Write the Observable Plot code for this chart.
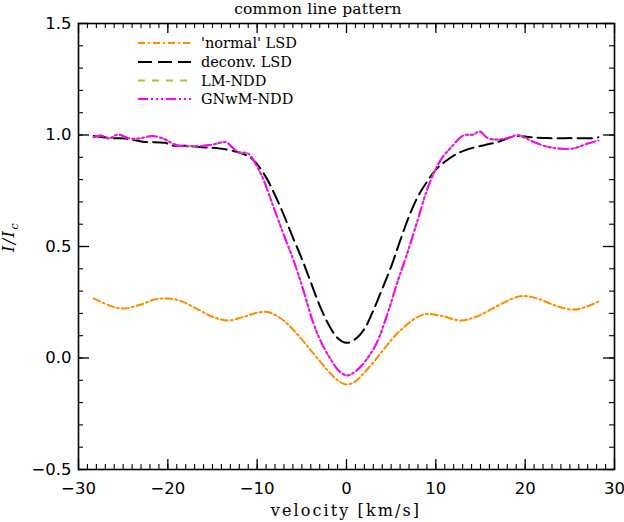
<!DOCTYPE html>
<html><head><meta charset="utf-8">
<script src="https://cdn.jsdelivr.net/npm/d3@7"></script>
<script src="https://cdn.jsdelivr.net/npm/@observablehq/plot@0.6"></script>
<style>
body{margin:0;background:#fff}
#chart{position:relative;width:624px;height:522px}
</style>
</head><body><div id="chart"></div>
<script>
// 'normal' LSD
const normalV = [-28.3,-26.5,-25,-23,-21.5,-20,-18.5,-16.5,-15,-13.3,-11.5,-10,-8.8,-7.05,-5.15,-3.7,-2.1,-1,0,1,2,3,3.8,6,8.6,10.5,12.8,14.5,16.5,18.5,19.8,21.5,23.5,25.4,27,28.2];
const normalI = [0.267,0.235,0.222,0.24,0.262,0.267,0.255,0.215,0.185,0.168,0.185,0.203,0.206,0.168,0.09,0.02,-0.056,-0.1,-0.119,-0.105,-0.065,-0.02,0.02,0.123,0.195,0.19,0.168,0.185,0.225,0.265,0.278,0.265,0.233,0.217,0.232,0.253];
// deconv. LSD
const deconvV = [-28.3,-26.2,-24.7,-22.8,-20.3,-19.5,-18,-16.1,-14.3,-12.4,-11,-10.2,-9,-8,-7,-6,-5,-4,-3,-2,-1,0,1,2,3,4,5,6,7,8,9,10,11,12.4,13.9,15.5,16.9,18.9,20.6,22.5,25,27.7,28.2];
const deconvI = [0.995,0.986,0.984,0.97,0.965,0.953,0.952,0.945,0.94,0.926,0.905,0.878,0.81,0.73,0.64,0.54,0.445,0.34,0.235,0.15,0.09,0.068,0.085,0.13,0.213,0.31,0.41,0.525,0.635,0.725,0.79,0.845,0.88,0.917,0.94,0.955,0.968,0.995,0.99,0.986,0.986,0.986,0.99];
// LM-NDD
const lmV = [-28.3,-27.5,-26.6,-25.6,-24.4,-23.3,-21.7,-20.3,-19.5,-18.8,-16.6,-15,-13.5,-12.8,-12.1,-11,-10.2,-9.3,-8.2,-7,-5.9,-4.8,-3.7,-2.7,-1.7,-0.8,0.1,1,1.9,2.7,3.5,4.6,5.7,6.8,7.95,9.1,10.5,11.6,13.1,14.2,14.9,15.8,16.9,18.4,19.1,20.6,22,23.6,25.4,27,28.2];
const lmI = [0.99,0.998,0.984,1.002,0.986,0.984,0.995,0.98,0.962,0.952,0.95,0.957,0.968,0.945,0.923,0.917,0.872,0.80,0.68,0.55,0.435,0.30,0.155,0.06,-0.01,-0.06,-0.078,-0.06,-0.025,0.02,0.078,0.2,0.34,0.47,0.616,0.764,0.885,0.94,0.998,1.002,1.016,0.986,0.98,0.99,1.0,0.975,0.953,0.94,0.94,0.962,0.975];
// GNwM-NDD
const gnV = [-28.3,-27.5,-26.6,-25.6,-24.4,-23.3,-21.7,-20.3,-19.5,-18.8,-16.6,-15,-13.5,-12.8,-12.1,-11,-10.2,-9.3,-8.2,-7,-5.9,-4.8,-3.7,-2.7,-1.7,-0.8,0.1,1,1.9,2.7,3.5,4.6,5.7,6.8,7.95,9.1,10.5,11.6,13.1,14.2,14.9,15.8,16.9,18.4,19.1,20.6,22,23.6,25.4,27,28.2];
const gnI = [0.99,0.998,0.984,1.002,0.986,0.984,0.995,0.98,0.962,0.952,0.95,0.957,0.968,0.945,0.923,0.917,0.872,0.80,0.68,0.55,0.435,0.30,0.155,0.06,-0.01,-0.06,-0.078,-0.06,-0.025,0.02,0.078,0.2,0.34,0.47,0.616,0.764,0.885,0.94,0.998,1.002,1.016,0.986,0.98,0.99,1.0,0.975,0.953,0.94,0.94,0.962,0.975];

const seriesNames = ["'normal' LSD","deconv. LSD","LM-NDD","GNwM-NDD"];
const seriesColors = ["#ff8c00","#000000","#9acd32","#ff00ff"];
const seriesDash = ["7,3,2,3","14,6","7,7","10,3,2,3,2,3,2,3"];
const seriesV = [normalV, deconvV, lmV, gnV];
const seriesI = [normalI, deconvI, lmI, gnI];

const xTicks = [-30,-20,-10,0,10,20,30];
const yTicks = [-0.5,0,0.5,1.0,1.5];
const xMinor = d3.range(-30,31,1);
const yMinor = d3.range(-5,16).map(d => d/10);
const titleText = "common line pattern";
const xLabelText = "velocity [km/s]";

const W = 624, H = 522, mL = 78, mR = 10, mT = 23, mB = 53;
const iW = W - mL - mR, iH = H - mT - mB;
const majL = 10, minL = 5;

const lineMarks = seriesNames.map((name, k) => {
  const data = seriesV[k].map((v, j) => ({v, I: seriesI[k][j]}));
  return Plot.line(data, {x: "v", y: "I", stroke: seriesColors[k], strokeWidth: 2,
    strokeDasharray: seriesDash[k], curve: "catmull-rom"});
});

const plot = Plot.plot({
  width: W, height: H,
  marginLeft: mL, marginRight: mR, marginTop: mT, marginBottom: mB,
  style: {background: "#fff", fontFamily: "DejaVu Sans", color: "#000"},
  x: {domain: [-30, 30]},
  y: {domain: [-0.5, 1.5]},
  marks: [
    ...lineMarks,
    Plot.tickX(xMinor, {x: d => d, insetTop: iH - minL, stroke: "#000", strokeWidth: 1.1}),
    Plot.tickX(xMinor, {x: d => d, insetBottom: iH - minL, stroke: "#000", strokeWidth: 1.1}),
    Plot.tickX(xTicks, {x: d => d, insetTop: iH - majL, stroke: "#000", strokeWidth: 1.3}),
    Plot.tickX(xTicks, {x: d => d, insetBottom: iH - majL, stroke: "#000", strokeWidth: 1.3}),
    Plot.tickY(yMinor, {y: d => d, insetRight: iW - minL, stroke: "#000", strokeWidth: 1.1}),
    Plot.tickY(yMinor, {y: d => d, insetLeft: iW - minL, stroke: "#000", strokeWidth: 1.1}),
    Plot.tickY(yTicks, {y: d => d, insetRight: iW - majL - 1, stroke: "#000", strokeWidth: 1.3}),
    Plot.tickY(yTicks, {y: d => d, insetLeft: iW - majL - 1, stroke: "#000", strokeWidth: 1.3}),
    Plot.frame({stroke: "#000", strokeWidth: 1.6}),
    Plot.axisX({ticks: xTicks, tickSize: 0, tickPadding: 13, fontSize: 16.5, fontFamily: "DejaVu Sans", label: null, tickFormat: d3.format("d")}),
    Plot.axisY({ticks: yTicks, tickSize: 0, tickPadding: 7, fontSize: 16.5, fontFamily: "DejaVu Sans", label: null, tickFormat: d3.format(".1f")})
  ]
});
document.getElementById("chart").appendChild(plot);

const svg = d3.select(plot);
// title
svg.append("text").attr("x", 318).attr("y", 14).attr("text-anchor", "middle")
  .attr("font-family", "DejaVu Serif").attr("font-size", 15.5).attr("fill", "#000")
  .attr("letter-spacing", "0.2px").text(titleText);
// x label
svg.append("text").attr("x", 346).attr("y", 516).attr("text-anchor", "middle")
  .attr("font-family", "DejaVu Serif").attr("font-size", 16).attr("fill", "#000")
  .attr("letter-spacing", "2.1px").text(xLabelText);
// y-axis label I/I_c
const yl = svg.append("text")
  .attr("transform", "translate(14,237) rotate(-90)")
  .attr("text-anchor", "middle")
  .attr("font-family", "DejaVu Serif").attr("font-style", "italic")
  .attr("font-size", 16).attr("letter-spacing", "1.5px").attr("fill", "#000");
yl.append("tspan").text("I/I");
yl.append("tspan").attr("dy", 4).attr("font-size", 11).text("c");

// legend
const lg = svg.append("g");
const rowY = [43, 62, 80.5, 99];
seriesNames.forEach((name, k) => {
  lg.append("line").attr("x1", 138).attr("x2", 191).attr("y1", rowY[k]).attr("y2", rowY[k])
    .attr("stroke", seriesColors[k]).attr("stroke-width", 2).attr("stroke-dasharray", seriesDash[k]);
  lg.append("text").attr("x", 201).attr("y", rowY[k] + 5).attr("text-anchor", "start")
    .attr("font-family", "DejaVu Serif").attr("font-size", 14.5).attr("fill", "#000").text(name);
});
</script>
</body></html>
